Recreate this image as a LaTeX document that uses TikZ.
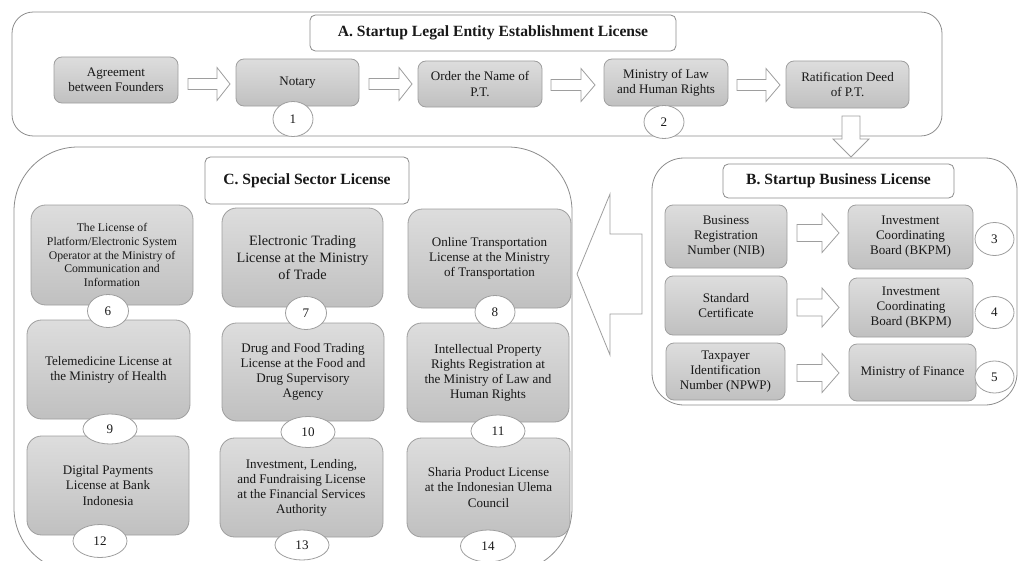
\documentclass[tikz,border=0pt]{standalone}
\usepackage{fontspec}
\setmainfont{Liberation Serif}
\usetikzlibrary{shapes.geometric}
\definecolor{frame}{RGB}{140,140,140}
\definecolor{boxline}{RGB}{158,158,158}
\definecolor{boxtop}{RGB}{221,221,221}
\definecolor{boxbot}{RGB}{192,192,192}
\definecolor{txt}{RGB}{25,25,25}
\newcommand\rblk[6]{% x1, x2, y, shaft half, head half, head length
  \draw[blk] (#1,{#3-#4}) -- ({#2-#6},{#3-#4}) -- ({#2-#6},{#3-#5}) -- (#2,#3)
    -- ({#2-#6},{#3+#5}) -- ({#2-#6},{#3+#4}) -- (#1,{#3+#4}) -- cycle;}
\begin{document}
\begin{tikzpicture}[x=0.75pt,y=-0.75pt,
  sz/.style 2 args={minimum width=#1*0.75pt, minimum height=#2*0.75pt},
  frm/.style={draw=frame, line width=0.6pt},
  ttl/.style={draw=frame, fill=white, rounded corners=4pt, line width=0.6pt,
    font=\fontsize{11.7}{14}\selectfont\bfseries, text=txt, inner sep=0pt},
  gbox/.style={draw=boxline, line width=0.6pt, top color=boxtop, bottom color=boxbot,
    rounded corners=6pt, align=center, inner sep=0pt, text=txt,
    font=\fontsize{9.8}{11.3}\selectfont},
  cbox/.style={gbox, rounded corners=11pt},
  num/.style={ellipse, draw=boxline, fill=white, line width=0.6pt, inner sep=0pt,
    text=txt, font=\fontsize{9.8}{11}\selectfont},
  blk/.style={draw=boxline, fill=white, line width=0.6pt, line join=miter}
]
\useasboundingbox (0,0) rectangle (1020,560);

% containers
\draw[frm, rounded corners=16pt] (12,12) rectangle (942,136);
\draw[frm, rounded corners=24pt] (652,158) rectangle (1017,405);
\draw[frm, rounded corners=48pt] (14,147) rectangle (572,572);

% titles
\node[ttl, sz={366}{36}] (tA) at (493,33) {A. Startup Legal Entity Establishment License};
\node[ttl, sz={231}{34}] (tB) at (838.5,181) {B. Startup Business License};
\node[ttl, sz={204}{47}] (tC) at (307,180.5) {C. Special Sector License};

% block arrows row A
\rblk{188}{230}{84}{5.5}{16.5}{13}
\rblk{369}{412}{84}{5.5}{16.5}{13}
\rblk{551}{595}{85}{5.5}{16.5}{14}
\rblk{737}{780}{85}{5.5}{16.5}{14}
% block arrows B
\rblk{797}{839}{233}{8.5}{19.5}{17}
\rblk{797}{839}{307.5}{8.5}{19.5}{17}
\rblk{797}{839}{373}{8.5}{19.5}{17}
% down arrow A -> B
\draw[blk] (842,116) -- (860,116) -- (860,139) -- (869,139) -- (851,157)
  -- (833,139) -- (842,139) -- cycle;
% big left arrow B -> C
\draw[blk] (642,234) -- (610,234) -- (610,194) -- (577,274) -- (610,355)
  -- (610,314) -- (642,314) -- cycle;

% row A boxes
\node[gbox, sz={124}{46}] (a1) at (116,80) {Agreement\\between Founders};
\node[gbox, sz={123}{47}] (a2) at (297.5,82.5) {Notary};
\node[gbox, sz={124}{46}] (a3) at (480,84) {Order the Name of\\P.T.};
\node[gbox, sz={124}{47}] (a4) at (666,82.5) {Ministry of Law\\and Human Rights};
\node[gbox, sz={123}{47}] (a5) at (847.5,84.5) {Ratification Deed\\of P.T.};
\node[num, sz={40}{35}] (n1) at (293,119) {1};
\node[num, sz={40}{33}] (n2) at (664,122) {2};

% B boxes
\node[gbox, sz={122}{63}] (b1) at (726,236.5) {Business\\Registration\\Number (NIB)};
\node[gbox, sz={125}{64}] (b2) at (910.5,237) {Investment\\Coordinating\\Board (BKPM)};
\node[gbox, sz={122}{59}] (b3) at (726,305.5) {Standard\\Certificate};
\node[gbox, sz={124}{59}] (b4) at (911,307.5) {Investment\\Coordinating\\Board (BKPM)};
\node[gbox, sz={119}{57}] (b5) at (725.5,371.5) {Taxpayer\\Identification\\Number (NPWP)};
\node[gbox, sz={127}{57}] (b6) at (912.5,372.5) {Ministry of Finance};
\node[num, sz={39}{33}] (n3) at (994.5,239) {3};
\node[num, sz={39}{32}] (n4) at (994.5,312.5) {4};
\node[num, sz={39}{32}] (n5) at (994.5,377) {5};

% C boxes
\node[cbox, sz={162}{100}, font=\fontsize{8.8}{10.3}\selectfont] (c6) at (112,255)
  {The License of\\Platform/Electronic System\\Operator at the Ministry of\\Communication and\\Information};
\node[cbox, sz={161}{99}, font=\fontsize{10.7}{13}\selectfont] (c7) at (302.5,257.5)
  {Electronic Trading\\License at the Ministry\\of Trade};
\node[cbox, sz={163}{99}] (c8) at (489.5,258.5)
  {Online Transportation\\License at the Ministry\\of Transportation};
\node[cbox, sz={163}{99}] (c9) at (108.5,369.5)
  {Telemedicine License at\\the Ministry of Health};
\node[cbox, sz={162}{98}] (c10) at (303,372)
  {Drug and Food Trading\\License at the Food and\\Drug Supervisory\\Agency};
\node[cbox, sz={162}{99}] (c11) at (488,372.5)
  {Intellectual Property\\Rights Registration at\\the Ministry of Law and\\Human Rights};
\node[cbox, sz={162}{99}] (c12) at (108,485.5)
  {Digital Payments\\License at Bank\\Indonesia};
\node[cbox, sz={163}{99}] (c13) at (301.5,487.5)
  {Investment, Lending,\\and Fundraising License\\at the Financial Services\\Authority};
\node[cbox, sz={163}{99}] (c14) at (488.5,487.5)
  {Sharia Product License\\at the Indonesian Ulema\\Council};

\node[num, sz={41}{33}] (n6) at (108,311) {6};
\node[num, sz={41}{33}] (n7) at (306,313) {7};
\node[num, sz={40}{33}] (n8) at (495,312) {8};
\node[num, sz={54}{30}] (n9) at (110,429) {9};
\node[num, sz={54}{31}] (n10) at (308,432) {10};
\node[num, sz={54}{32}] (n11) at (498,431) {11};
\node[num, sz={54}{33}] (n12) at (100,541) {12};
\node[num, sz={54}{30}] (n13) at (302,545) {13};
\node[num, sz={55}{32}] (n14) at (488,546) {14};
\end{tikzpicture}
\end{document}
